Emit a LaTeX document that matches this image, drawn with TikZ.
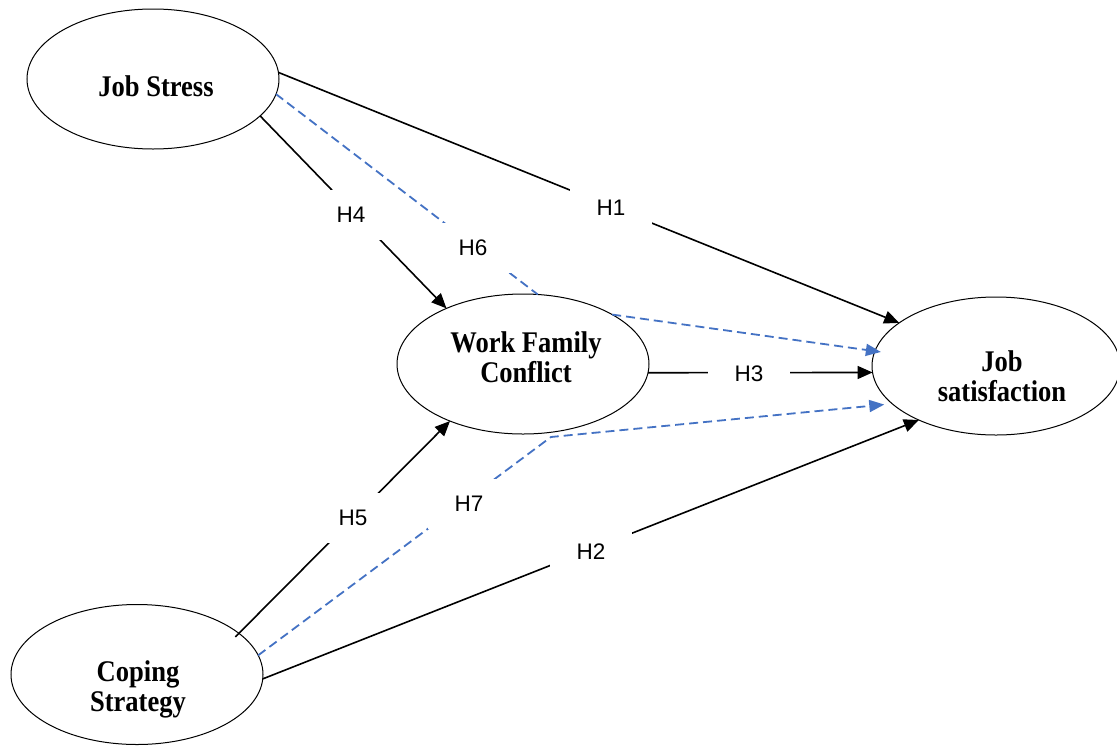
\documentclass[tikz,border=0pt]{standalone}
\usepackage{fontspec}
\setmainfont{Liberation Serif}
\newfontfamily\arialf{Liberation Sans}
\usetikzlibrary{arrows.meta,shapes.geometric}
\definecolor{hblue}{RGB}{68,114,196}
\newcommand{\sqz}[1]{\scalebox{0.885}[1]{#1}}
\begin{document}
\begin{tikzpicture}[x=1pt,y=-1pt,
  latent/.style={draw, ellipse, line width=1pt, fill=white, inner sep=0pt, outer sep=0pt, minimum width=252pt, minimum height=140pt},
  lname/.style={font=\fontsize{30}{30}\selectfont\bfseries, align=center, inner sep=0pt},
  hyp/.style={fill=white, minimum width=82pt, minimum height=50pt, inner sep=0pt, font=\arialf\fontsize{22.5}{27}\selectfont},
  causal/.style={line width=1.6pt, -{Triangle[length=15pt,width=13pt]}},
  med/.style={line width=1.8pt, hblue, dash pattern=on 9pt off 5pt, -{Triangle[length=15pt,width=12pt]}},
  medplain/.style={line width=1.8pt, hblue, dash pattern=on 9pt off 5pt}
]
\fill[white] (0,0) rectangle (1117,745);
\useasboundingbox (0,0) rectangle (1117,745);

% latent variables
\node[latent] (js) at (153,79) {};
\node[latent] (wfc) at (523,364) {};
\node[latent, minimum width=248pt, minimum height=138pt] (jsat) at (996,366) {};
\node[latent] (cs) at (137,674.5) {};

\node[lname] (jst) at (156,86) {\sqz{Job Stress}};
\node[lname] (wfct) at (526,357.5) {\sqz{Work Family}\\\sqz{Conflict}};
\node[lname] (jsatt) at (1002,376.5) {\sqz{Job}\\\sqz{satisfaction}};
\node[lname] (cst) at (138,689) {\sqz{Coping}\\\sqz{Strategy}};

% H1
\draw[causal] (js.3) -- (jsat.156.4);
\node[hyp] (h1) at (611,208) {H1};
% H4
\draw[causal] (js.-19.7) -- (wfc.144.6);
\node[hyp] (h4) at (351,215) {H4};
% H6
\draw[medplain] (js.-7.4) -- (wfc.78.7);
\draw[med, shorten >=-6pt] (wfc.29.8) -- (jsat.173);
\node[hyp] (h6) at (473,248) {H6};
% H3
\draw[causal] (wfc.-4) -- (jsat.-177);
\node[hyp] (h3) at (749,374) {H3};
% H5
\draw[causal, shorten <=-5pt] (cs.22.6) -- (wfc.-142.5);
\node[hyp] (h5) at (353,518) {H5};
% H7
\coordinate (c7) at (551,437);
\draw[med, shorten >=8pt] (cs.9) -- (c7) -- (jsat.-160);
\node[hyp] (h7) at (469,504) {H7};
% H2
\draw[causal] (cs.-2) -- (jsat.-145.6);
\node[hyp] (h2) at (591,552) {H2};
\end{tikzpicture}
\end{document}
